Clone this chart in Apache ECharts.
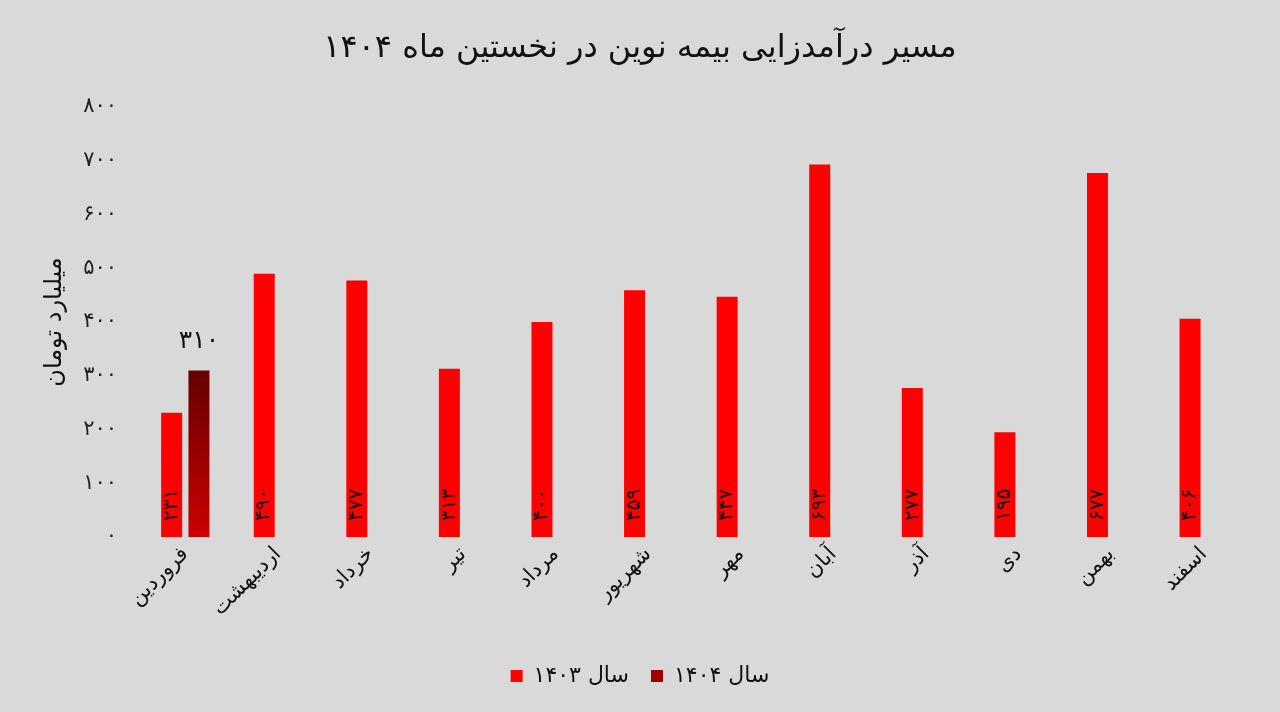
<!DOCTYPE html>
<html><head><meta charset="utf-8">
<script src="https://cdn.jsdelivr.net/npm/echarts@6/dist/echarts.min.js"></script>
<style>html,body{margin:0;padding:0;background:#d9d9d9;}#c{width:1280px;height:712px;}</style>
</head><body><div id="c"></div>
<script>
const months = ['فروردین','اردیبهشت','خرداد','تیر','مرداد','شهریور','مهر','آبان','آذر','دی','بهمن','اسفند'];
const values1403 = [231, 490, 477, 313, 400, 459, 447, 693, 277, 195, 677, 406];
const values1404 = [310, null, null, null, null, null, null, null, null, null, null, null];
const seriesNames = ['سال ۱۴۰۳', 'سال ۱۴۰۴'];
const titleText = 'مسیر درآمدزایی بیمه نوین در نخستین ماه ۱۴۰۴';
const yAxisName = 'میلیارد تومان';

const fa = n => String(n).replace(/[0-9]/g, d => '۰۱۲۳۴۵۶۷۸۹'[d]);
const FONT = '"DejaVu Sans", "Noto Sans", sans-serif';
const grad = new echarts.graphic.LinearGradient(0, 0, 0, 1, [
  {offset: 0, color: '#650000'}, {offset: 1, color: '#cc0000'}
]);

const chart = echarts.init(document.getElementById('c'));
chart.setOption({
  backgroundColor: '#d9d9d9',
  textStyle: {fontFamily: FONT},
  title: {text: titleText, left: 'center', top: 28,
    textStyle: {fontSize: 32, fontWeight: 'normal', color: '#111', fontFamily: FONT}},
  legend: {bottom: 20, left: 'center', icon: 'rect', itemWidth: 12, itemHeight: 12, itemGap: 22,
    textStyle: {fontSize: 22, color: '#111', fontFamily: FONT, padding: [0, 0, 0, 6]},
    data: [{name: seriesNames[0]}, {name: seriesNames[1], itemStyle: {color: '#a00000'}}]},
  grid: {left: 139, right: 30, top: 107, bottom: 175},
  xAxis: {type: 'category', data: months,
    axisLine: {show: false}, axisTick: {show: false},
    axisLabel: {rotate: 45, fontSize: 21, color: '#111', margin: 14, interval: 0, fontFamily: FONT}},
  yAxis: {type: 'value', min: 0, max: 800, interval: 100,
    name: yAxisName, nameLocation: 'middle', nameGap: 72, nameRotate: 90,
    nameTextStyle: {fontSize: 24, color: '#111', fontFamily: FONT},
    splitLine: {show: false}, axisLine: {show: false}, axisTick: {show: false},
    axisLabel: {fontSize: 21, color: '#222', margin: 22, formatter: v => fa(v), fontFamily: FONT}},
  series: [
    {name: seriesNames[0], type: 'bar', data: values1403, barWidth: 21, barGap: '30%',
      itemStyle: {color: '#ff0000'},
      label: {show: true, position: 'insideBottom', rotate: 90, align: 'left', verticalAlign: 'middle',
        distance: 16, fontSize: 20, color: '#111', formatter: p => fa(p.value), fontFamily: FONT}},
    {name: seriesNames[1], type: 'bar', data: values1404, barWidth: 21,
      itemStyle: {color: grad},
      label: {show: true, position: 'top', distance: 16, fontSize: 25, color: '#111',
        formatter: p => (p.value == null ? '' : fa(p.value)), fontFamily: FONT}}
  ]
});
</script></body></html>
